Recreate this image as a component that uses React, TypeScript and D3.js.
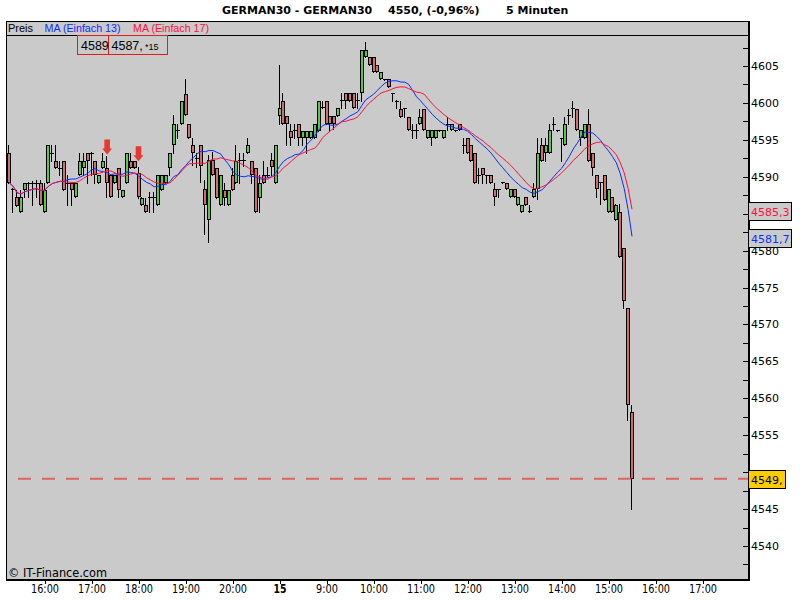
import { useEffect, useRef } from "react"
import * as d3 from "d3"

// 5-minute bars (index 0 = 15:15, index 159 = 15:30 next day)
const opens = [
  4593.2, 4588.3, 4587.2, 4585.2, 4588.2, 4589.2, 4589.2, 4589.2, 4589.2, 4585.2,
  4589.2, 4593.2, 4592.2, 4591.2, 4592.2, 4589.2, 4589.2, 4587.2, 4590.2, 4591.2,
  4593.2, 4593.2, 4592.2, 4589.2, 4591.2, 4591.2, 4590.2, 4589.2, 4591.2, 4587.2,
  4589.2, 4592.2, 4592.2, 4590.5, 4586.2, 4586.2, 4587.2, 4587.2, 4586.2, 4588.2,
  4589.2, 4591.2, 4594.3, 4596.3, 4597.2, 4601.2, 4597.2, 4594.3, 4592.5, 4594.3,
  4588.3, 4584.2, 4592.3, 4591.2, 4586.2, 4588.2, 4586.2, 4590.2, 4589.2, 4592.3,
  4592.3, 4593.2, 4592.2, 4591.2, 4587.1, 4590.2, 4590.3, 4592.3, 4589.2, 4598.2,
  4600.3, 4598.2, 4596.2, 4596.3, 4597.2, 4595.2, 4595.2, 4595.2, 4595.2, 4596.2,
  4599.4, 4600.3, 4598.2, 4598.2, 4598.2, 4600.4, 4601.3, 4601.3, 4601.3, 4600.4,
  4601.3, 4606.2, 4606.2, 4606.2, 4605.2, 4603.2, 4603.3, 4603.2, 4601.3, 4600.3,
  4599.2, 4599.3, 4598.1, 4596.4, 4596.4, 4597.2, 4599.2, 4595.2, 4595.2, 4595.2,
  4596.3, 4595.2, 4597.2, 4596.3, 4596.3, 4597.2, 4594.3, 4595.2, 4594.3, 4593.2,
  4590.3, 4591.2, 4590.3, 4590.2, 4588.3, 4588.3, 4589.3, 4589.2, 4587.2, 4588.3,
  4586.2, 4585.2, 4587.2, 4585.3, 4587.2, 4588.3, 4594.3, 4593.2, 4593.2, 4597.2,
  4596.3, 4595.2, 4594.3, 4598.4, 4599.3, 4599.2, 4595.2, 4595.2, 4597.2, 4593.2,
  4590.2, 4589.3, 4590.2, 4585.2, 4587.2, 4584.2, 4585.2, 4580.3, 4572.2, 4558.2,
]
const highs = [
  4594.3, 4588.5, 4588.2, 4588.2, 4589.2, 4589.3, 4589.4, 4589.5, 4589.5, 4589.2,
  4594.3, 4594.3, 4594.3, 4592.2, 4592.2, 4590.2, 4589.2, 4589.2, 4593.2, 4593.2,
  4593.2, 4593.3, 4592.2, 4590.2, 4593.2, 4592.8, 4590.2, 4590.2, 4591.2, 4588.2,
  4593.2, 4593.2, 4592.2, 4591.3, 4587.3, 4587.1, 4587.9, 4588.0, 4590.2, 4590.2,
  4590.2, 4593.2, 4598.3, 4597.2, 4600.2, 4603.2, 4597.2, 4595.3, 4593.2, 4594.3,
  4589.5, 4592.9, 4593.4, 4591.2, 4590.2, 4589.2, 4588.2, 4591.2, 4594.3, 4593.2,
  4593.2, 4595.2, 4592.2, 4591.2, 4590.2, 4592.2, 4591.3, 4593.2, 4594.3, 4605.2,
  4601.3, 4598.2, 4597.2, 4597.2, 4597.2, 4596.2, 4596.2, 4596.2, 4597.2, 4600.3,
  4600.3, 4600.3, 4598.2, 4598.2, 4599.3, 4601.3, 4601.3, 4601.3, 4601.3, 4601.3,
  4607.2, 4608.3, 4606.2, 4606.2, 4605.2, 4604.2, 4603.3, 4603.2, 4601.3, 4600.4,
  4600.2, 4599.3, 4598.1, 4597.2, 4597.2, 4599.2, 4599.2, 4596.3, 4596.3, 4596.3,
  4596.4, 4596.3, 4598.1, 4597.2, 4596.4, 4597.2, 4595.2, 4595.2, 4594.3, 4593.2,
  4591.2, 4591.2, 4590.3, 4590.2, 4589.2, 4588.3, 4589.3, 4589.2, 4588.3, 4588.3,
  4587.2, 4586.2, 4587.2, 4586.2, 4589.2, 4595.2, 4595.2, 4595.2, 4597.2, 4598.1,
  4596.4, 4595.3, 4598.1, 4599.2, 4600.2, 4599.2, 4596.3, 4597.2, 4599.2, 4593.2,
  4590.2, 4589.3, 4590.2, 4588.3, 4587.2, 4586.3, 4586.3, 4580.3, 4572.2, 4559.1,
]
const lows = [
  4589.2, 4585.2, 4586.0, 4585.2, 4587.2, 4587.3, 4586.2, 4587.2, 4586.2, 4585.2,
  4589.2, 4592.2, 4591.2, 4590.2, 4588.2, 4586.2, 4586.2, 4587.2, 4590.2, 4590.2,
  4589.2, 4590.2, 4589.2, 4589.2, 4591.2, 4587.2, 4587.2, 4589.2, 4587.2, 4587.2,
  4589.2, 4591.2, 4591.2, 4587.1, 4586.2, 4585.2, 4585.2, 4585.2, 4586.2, 4588.2,
  4589.2, 4590.2, 4593.2, 4595.2, 4597.2, 4598.3, 4595.2, 4591.6, 4591.3, 4589.3,
  4582.2, 4581.2, 4590.2, 4587.1, 4586.2, 4586.2, 4586.2, 4588.2, 4589.2, 4589.2,
  4591.5, 4593.2, 4589.2, 4585.2, 4585.2, 4589.2, 4590.0, 4590.2, 4589.2, 4597.2,
  4597.2, 4594.3, 4594.3, 4595.2, 4594.3, 4594.3, 4593.2, 4595.2, 4595.2, 4596.2,
  4599.3, 4597.2, 4596.2, 4596.5, 4598.2, 4599.3, 4599.3, 4600.3, 4599.3, 4599.3,
  4600.3, 4606.2, 4605.2, 4604.2, 4604.2, 4603.2, 4603.1, 4602.2, 4600.3, 4599.3,
  4598.1, 4598.1, 4596.3, 4595.2, 4595.2, 4597.2, 4596.3, 4595.2, 4594.3, 4595.2,
  4596.2, 4595.2, 4596.3, 4596.3, 4596.2, 4596.3, 4593.2, 4593.2, 4592.2, 4589.2,
  4589.2, 4589.2, 4589.2, 4589.2, 4586.2, 4587.2, 4589.1, 4588.3, 4587.2, 4587.2,
  4586.2, 4585.2, 4586.2, 4585.2, 4587.2, 4587.0, 4592.2, 4592.2, 4593.2, 4596.3,
  4596.2, 4592.2, 4594.3, 4597.2, 4598.1, 4596.3, 4594.3, 4595.2, 4592.2, 4590.2,
  4587.2, 4586.3, 4586.8, 4585.2, 4585.2, 4584.2, 4579.1, 4572.2, 4557.1, 4545.0,
]
const closes = [
  4589.2, 4588.2, 4586.1, 4587.2, 4589.2, 4589.1, 4589.1, 4589.1, 4586.2, 4588.2,
  4594.3, 4593.1, 4591.2, 4591.1, 4588.2, 4589.1, 4588.2, 4589.2, 4592.2, 4592.2,
  4592.2, 4593.1, 4590.2, 4590.2, 4592.2, 4589.2, 4587.2, 4590.2, 4588.2, 4588.2,
  4593.2, 4591.2, 4591.2, 4587.2, 4587.1, 4585.2, 4587.1, 4587.1, 4590.2, 4590.2,
  4590.2, 4593.2, 4597.2, 4596.2, 4600.2, 4598.3, 4595.2, 4593.2, 4592.4, 4591.4,
  4586.2, 4592.3, 4590.2, 4587.1, 4590.2, 4587.1, 4588.2, 4588.2, 4592.2, 4592.2,
  4592.2, 4594.3, 4590.2, 4585.2, 4589.2, 4589.2, 4590.2, 4591.3, 4594.3, 4599.3,
  4597.2, 4597.2, 4595.2, 4596.2, 4595.2, 4596.2, 4596.2, 4596.2, 4597.2, 4600.3,
  4599.3, 4597.2, 4597.2, 4597.2, 4599.3, 4600.3, 4600.3, 4600.3, 4599.3, 4600.3,
  4607.2, 4607.2, 4605.2, 4604.2, 4604.2, 4604.2, 4603.2, 4602.2, 4601.2, 4600.2,
  4598.1, 4599.2, 4596.3, 4596.3, 4596.3, 4598.1, 4596.3, 4596.3, 4596.3, 4596.3,
  4596.3, 4596.3, 4597.2, 4597.2, 4596.3, 4596.3, 4594.2, 4593.2, 4592.2, 4589.2,
  4590.2, 4590.2, 4590.2, 4589.2, 4587.2, 4588.2, 4589.2, 4588.3, 4588.3, 4587.2,
  4587.2, 4586.2, 4586.2, 4585.2, 4588.3, 4593.2, 4592.2, 4594.3, 4596.3, 4597.1,
  4596.3, 4595.1, 4597.2, 4598.3, 4599.2, 4596.3, 4596.3, 4597.2, 4592.2, 4591.2,
  4588.3, 4589.2, 4586.8, 4588.3, 4585.2, 4586.2, 4579.1, 4573.2, 4559.1, 4549.1,
]

const hourLabels = [
  "16:00", "17:00", "18:00", "19:00", "20:00", "15", "9:00", "10:00",
  "11:00", "12:00", "13:00", "14:00", "15:00", "16:00", "17:00",
]
const firstHourBar = 9
const barsPerHour = 12

const signalBars = [25, 33]
const signalPrices = [4593.0, 4592.1]

const maPeriods = [13, 17]
const maNames = ["MA (Einfach 13)", "MA (Einfach 17)"]
const maColors = ["#0a2eff", "#ff1040"]
const maLastValues = [4581.7, 4585.3]
const maLastLabels = ["4581,7", "4585,3"]

const lastPrice = 4549.1
const lastPriceLabel = "4549,"

const titleParts = ["GERMAN30 - GERMAN30", "4550, (-0,96%)", "5 Minuten"]

export default function App() {
  const ref = useRef<SVGSVGElement | null>(null)

  useEffect(() => {
    const svg = d3.select(ref.current)
    svg.selectAll("*").remove()

    const left = 6
    const right = 749
    const top = 21
    const band = 35
    const bottom = 579
    const plotBg = "#cacaca"
    const narrow = "'Liberation Sans Narrow', 'DejaVu Sans Condensed', sans-serif"

    const x = d3.scaleLinear().domain([9, 153]).range([44.5, 608.5])
    const y = d3.scaleLinear().domain([4540, 4605]).range([546, 66])

    svg.append("rect").attr("width", 800).attr("height", 600).attr("fill", "#fff")
    svg.append("rect")
      .attr("x", left).attr("y", top)
      .attr("width", right - left).attr("height", bottom - top)
      .attr("fill", plotBg)

    svg.append("clipPath").attr("id", "plot-clip")
      .append("rect")
      .attr("x", left + 1).attr("y", band + 1)
      .attr("width", right - left - 2).attr("height", bottom - band - 2)

    // tags on the price axis hide the tick labels underneath them
    const tagPrices = [...maLastValues, lastPrice]
    const hidden = (v: number) => tagPrices.some(p => Math.abs(y(p) - y(v)) < 10)

    // price axis on the right
    const yAxis = d3.axisRight(y)
      .tickValues(d3.range(4537.5, 4608, 2.5))
      .tickFormat(d => (+d % 5 === 0 && !hidden(+d) ? String(d) : ""))
      .tickSizeInner(-6)
      .tickSizeOuter(0)
      .tickPadding(2)
    const ya = svg.append("g").attr("transform", `translate(${right},0)`).call(yAxis)
    ya.select(".domain").remove()
    ya.selectAll("line").attr("stroke", "#000").attr("shape-rendering", "crispEdges")
    ya.selectAll("text")
      .attr("fill", "#000")
      .attr("font-family", "DejaVu Sans, Verdana, sans-serif")
      .attr("font-size", 11)

    // time axis
    const xAxis = d3.axisBottom(x)
      .tickValues(hourLabels.map((_, k) => firstHourBar + k * barsPerHour))
      .tickFormat((_, k) => hourLabels[k])
      .tickSizeInner(4)
      .tickSizeOuter(0)
      .tickPadding(0)
    const xa = svg.append("g").attr("transform", `translate(0,${bottom + 1})`).call(xAxis)
    xa.select(".domain").remove()
    xa.selectAll("line").attr("stroke", "#000").attr("shape-rendering", "crispEdges")
    xa.selectAll("text")
      .attr("fill", "#000")
      .attr("font-family", narrow)
      .attr("font-size", 13)
      .attr("font-weight", (_, k) => (hourLabels[k] === "15" ? "bold" : "normal"))
      .attr("textLength", (_, k) => (hourLabels[k].length === 5 ? 28 : hourLabels[k].length === 4 ? 22 : 13))
      .attr("lengthAdjust", "spacingAndGlyphs")

    const plot = svg.append("g").attr("clip-path", "url(#plot-clip)")

    // candles
    const bars = d3.range(closes.length)
    const candle = plot.selectAll("g.candle").data(bars).enter().append("g")
      .attr("shape-rendering", "crispEdges")

    candle.append("line")
      .attr("x1", i => Math.round(x(i)) - 0.5)
      .attr("x2", i => Math.round(x(i)) - 0.5)
      .attr("y1", i => Math.round(y(highs[i])))
      .attr("y2", i => Math.round(y(lows[i])) + 1)
      .attr("stroke", "#000")

    candle.each(function (i) {
      const g = d3.select(this)
      const cx = Math.round(x(i))
      const yTop = Math.round(y(Math.max(opens[i], closes[i])))
      const yBot = Math.round(y(Math.min(opens[i], closes[i])))
      if (yBot - yTop < 2) {
        g.append("line")
          .attr("x1", cx - 2).attr("x2", cx + 2)
          .attr("y1", yTop + 0.5).attr("y2", yTop + 0.5)
          .attr("stroke", "#000")
      } else {
        g.append("rect")
          .attr("x", cx - 1.5).attr("width", 3)
          .attr("y", yTop + 0.5).attr("height", yBot - yTop - 1)
          .attr("fill", closes[i] > opens[i] ? "#5ac846" : "#d06e6e")
          .attr("stroke", "#000")
      }
    })

    // simple moving averages of the closes
    const line = d3.line<number>().x((_, i) => x(i)).y(d => y(d))
    maPeriods.forEach((p, k) => {
      const ma = closes.map((_, i) => d3.mean(closes.slice(Math.max(0, i - p + 1), i + 1)) as number)
      plot.append("path")
        .attr("d", line(ma))
        .attr("fill", "none")
        .attr("stroke", maColors[k])
        .attr("stroke-width", 1)
    })

    // last price line
    plot.append("line")
      .attr("x1", 18).attr("x2", right)
      .attr("y1", y(lastPrice)).attr("y2", y(lastPrice))
      .attr("stroke", "#dc6464")
      .attr("stroke-width", 2)
      .attr("stroke-dasharray", "13 11")

    // signal arrows
    plot.selectAll("path.signal").data(signalBars).enter().append("path")
      .attr("transform", (b, k) => `translate(${x(b)},${y(signalPrices[k])})`)
      .attr("d", "M0,0 L-5,-6 L-2.8,-6 L-2.8,-15 L2.8,-15 L2.8,-6 L5,-6 Z")
      .attr("fill", "#e8392e")

    // frame
    const frame = svg.append("g").attr("stroke", "#000").attr("shape-rendering", "crispEdges")
    frame.append("line").attr("x1", left).attr("x2", right).attr("y1", top + 0.5).attr("y2", top + 0.5)
    frame.append("line").attr("x1", left).attr("x2", right).attr("y1", band + 0.5).attr("y2", band + 0.5)
    frame.append("line").attr("x1", left + 0.5).attr("x2", left + 0.5).attr("y1", top).attr("y2", bottom + 1)
    frame.append("line").attr("x1", right).attr("x2", right).attr("y1", top).attr("y2", bottom + 2)
      .attr("stroke-width", 2)
    frame.append("line").attr("x1", left).attr("x2", right + 1).attr("y1", bottom + 0.5).attr("y2", bottom + 0.5)
      .attr("stroke-width", 2)

    // legend row
    const legend = svg.append("g")
      .attr("font-family", "Liberation Sans, Arial, sans-serif")
      .attr("font-size", 11)
    legend.append("text").attr("x", 8).attr("y", 31.5).attr("fill", "#000").text("Preis")
    maNames.forEach((n, k) => {
      legend.append("text")
        .attr("x", k === 0 ? 44.5 : 133).attr("y", 31.5)
        .attr("fill", maColors[k])
        .attr("textLength", 76).attr("lengthAdjust", "spacingAndGlyphs")
        .text(n)
    })

    // crosshair readout box
    const info = svg.append("g")
    info.append("rect").attr("x", 77.5).attr("y", 35.5).attr("width", 90).attr("height", 19)
      .attr("fill", plotBg).attr("stroke", "#e01c1c").attr("shape-rendering", "crispEdges")
    info.append("line").attr("x1", 108.5).attr("x2", 108.5).attr("y1", 35.5).attr("y2", 54.5)
      .attr("stroke", "#e01c1c").attr("shape-rendering", "crispEdges")
    const infoText = info.append("text")
      .attr("font-family", "Liberation Sans, Arial, sans-serif")
      .attr("font-size", 12.5).attr("fill", "#000")
    infoText.append("tspan").attr("x", 81).attr("y", 50).text("4589")
    infoText.append("tspan").attr("x", 111.5).attr("y", 50).text("4587,")
    infoText.append("tspan").attr("x", 145).attr("y", 50).attr("font-size", 9).text("*15")

    // value tags on the price axis
    const tags = svg.append("g")
      .attr("font-family", "DejaVu Sans, Verdana, sans-serif")
      .attr("font-size", 11)
    maLastValues.forEach((v, k) => {
      const cy = Math.round(y(v))
      tags.append("rect").attr("x", right - 0.5).attr("y", cy - 8.5).attr("width", 43).attr("height", 18)
        .attr("fill", plotBg).attr("stroke", "#000").attr("shape-rendering", "crispEdges")
      tags.append("text").attr("x", right + 2).attr("y", cy + 1).attr("dy", "0.32em")
        .attr("fill", maColors[k]).text(maLastLabels[k])
    })
    const py = Math.round(y(lastPrice))
    tags.append("rect").attr("x", right - 0.5).attr("y", py - 8.5).attr("width", 37).attr("height", 18)
      .attr("fill", "#ffcc00").attr("stroke", "#000").attr("shape-rendering", "crispEdges")
    tags.append("text").attr("x", right + 2).attr("y", py + 1).attr("dy", "0.32em")
      .attr("fill", "#000").text(lastPriceLabel)

    // title
    const title = svg.append("g")
      .attr("font-family", "DejaVu Sans, Verdana, sans-serif")
      .attr("font-size", 11).attr("font-weight", "bold").attr("fill", "#000")
    const titleX = [222, 388, 506]
    titleParts.forEach((t, k) => {
      title.append("text").attr("x", titleX[k]).attr("y", 13.5).text(t)
    })

    svg.append("text")
      .attr("x", 8).attr("y", 577)
      .attr("font-family", narrow)
      .attr("font-size", 13).attr("fill", "#000")
      .attr("textLength", 99).attr("lengthAdjust", "spacingAndGlyphs")
      .text("© IT-Finance.com")
  }, [])

  return (
    <svg
      ref={ref}
      width={800}
      height={600}
      style={{ position: "absolute", left: 0, top: 0, display: "block" }}
    />
  )
}
